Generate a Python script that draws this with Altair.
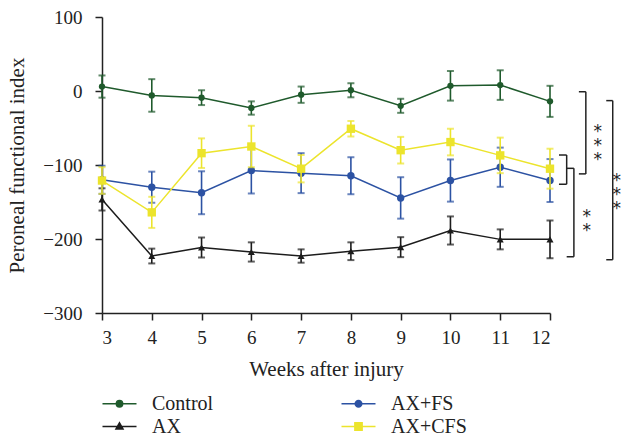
import altair as alt
import pandas as pd

weeks = [3, 4, 5, 6, 7, 8, 9, 10, 11, 12]
series_names = ["Control", "AX", "AX+FS", "AX+CFS"]
colors = {"Control": "#1f5a2c", "AX": "#1c1c1c", "AX+FS": "#2c52a3", "AX+CFS": "#ece42c"}
shapes = {"Control": "circle", "AX": "triangle-up", "AX+FS": "circle", "AX+CFS": "square"}
sizes = {"Control": 40, "AX": 50, "AX+FS": 55, "AX+CFS": 70}
legend_paths = {
    "Control": "M-1.5,0H1.5M-0.28,0A0.28,0.28,0,1,0,0.28,0A0.28,0.28,0,1,0,-0.28,0Z",
    "AX": "M-1.5,0H1.5M0,-0.32L0.31,0.22L-0.31,0.22Z",
    "AX+FS": "M-1.5,0H1.5M-0.29,0A0.29,0.29,0,1,0,0.29,0A0.29,0.29,0,1,0,-0.29,0Z",
    "AX+CFS": "M-1.5,0H1.5M-0.32,-0.32H0.32V0.32H-0.32Z",
}

control_mean = [6, -6, -9, -23, -5, 1, -20, 7, 8, -14]
control_err = [15, 22, 10, 9, 11, 9.5, 9.5, 20, 20, 21]
ax_mean = [-146.5, -223, -211.5, -217.5, -223, -216.5, -211, -188.5, -200.5, -200.5]
ax_err = [15, 10, 13.5, 13, 9, 12, 13.5, 19, 13.5, 25.5]
fs_mean = [-120, -130, -137.5, -107.5, -111, -114.5, -144.5, -121, -103, -121]
fs_err = [19, 21, 29, 31, 27, 25, 28, 28.5, 26.5, 29]
cfs_mean = [-121, -164, -84, -75, -105, -51, -80, -69, -87, -105]
cfs_err = [18, 21, 20, 28, 18.5, 10.5, 18, 18, 24, 27]

means = {"Control": control_mean, "AX": ax_mean, "AX+FS": fs_mean, "AX+CFS": cfs_mean}
errs = {"Control": control_err, "AX": ax_err, "AX+FS": fs_err, "AX+CFS": cfs_err}

# significance brackets (in data units)
br_x = [12.335, 12.18, 12.18, 12.48, 12.335, 12.335, 12.72, 12.58, 12.58, 13.26, 13.13, 13.13]
br_x2 = [12.335, 12.335, 12.335, 12.48, 12.48, 12.48, 12.72, 12.72, 12.72, 13.26, 13.26, 13.26]
br_y = [-86.5, -86.5, -126, -104.5, -104.5, -224, -1, -1, -112, -13, -13, -228]
br_y2 = [-126, -86.5, -126, -224, -104.5, -224, -112, -1, -112, -228, -13, -228]
star_x = [12.74, 12.96, 13.34]
star_y = [-170, -55, -121]
star_text = ["*\n*", "*\n*\n*", "*\n*\n*"]

rows = []
for s in series_names:
    for w, m, e in zip(weeks, means[s], errs[s]):
        rows.append({"week": w, "series": s, "mean": m, "lo": m - e, "hi": m + e})
df = pd.DataFrame(rows)

br_df = pd.DataFrame({"x": br_x, "x2": br_x2, "y": br_y, "y2": br_y2})
star_df = pd.DataFrame({"x": star_x, "y": star_y, "t": star_text})

FONT = "Liberation Serif"
xscale = alt.Scale(domain=[3, 12], nice=False, zero=False, padding=0)
yscale = alt.Scale(domain=[-300, 100], nice=False, padding=0)

X = alt.X("week:Q", scale=xscale,
          axis=alt.Axis(values=weeks, title="Weeks after injury", grid=False, tickSize=7,
                        labelPadding=8, titlePadding=11))
Y = alt.Y("mean:Q", scale=yscale,
          axis=alt.Axis(values=[-300, -200, -100, 0, 100], title="Peroneal functional index",
                        grid=False, tickSize=7, labelPadding=13, titlePadding=15))

base = alt.Chart(df)
layers = []
for s in series_names:
    d = base.transform_filter(alt.datum.series == s)
    col = alt.value(colors[s])
    layers.append(d.mark_rule(strokeWidth=1.6).encode(x=X, y=alt.Y("lo:Q", scale=yscale), y2="hi:Q", color=col))
    layers.append(d.mark_tick(orient="horizontal", size=7, thickness=2).encode(x=X, y=alt.Y("lo:Q", scale=yscale), color=col))
    layers.append(d.mark_tick(orient="horizontal", size=7, thickness=2).encode(x=X, y=alt.Y("hi:Q", scale=yscale), color=col))
    layers.append(d.mark_line(strokeWidth=1.5).encode(x=X, y=Y, color=col))
    layers.append(d.mark_point(filled=True, opacity=1, shape=shapes[s], size=sizes[s]).encode(x=X, y=Y, color=col))

leg = alt.Legend(title=None, orient="none", legendX=5, legendY=374, columns=2,
                 symbolSize=514, columnPadding=124, rowPadding=0,
                 labelFont=FONT, labelFontSize=20, labelColor="#222",
                 labelOffset=20, symbolStrokeWidth=1.5, symbolOpacity=1)
rng = [colors[s] for s in series_names]
legend_layer = base.mark_point(filled=True, opacity=0, strokeWidth=1.5).encode(
    x=X, y=Y,
    color=alt.Color("series:N", scale=alt.Scale(domain=series_names, range=rng), legend=leg),
    stroke=alt.Stroke("series:N", scale=alt.Scale(domain=series_names, range=rng), legend=leg),
    shape=alt.Shape("series:N", scale=alt.Scale(domain=series_names, range=[legend_paths[s] for s in series_names]),
                    legend=leg),
)

brackets = alt.Chart(br_df).mark_rule(strokeWidth=1.5, color="#222").encode(
    x=alt.X("x:Q", scale=xscale), x2="x2:Q", y=alt.Y("y:Q", scale=yscale), y2="y2:Q")
stars = alt.Chart(star_df).mark_text(font="DejaVu Sans", fontSize=17, lineBreak="\n", lineHeight=14,
                                     baseline="middle", align="center", color="#222").encode(
    x=alt.X("x:Q", scale=xscale), y=alt.Y("y:Q", scale=yscale), text="t:N")

chart = alt.layer(*layers, legend_layer, brackets, stars).properties(
    width=448, height=296,
    autosize=alt.AutoSizeParams(type="none"),
    padding={"left": 94, "top": 9, "right": 71, "bottom": 122},
).configure_view(stroke=None).configure_axis(
    domainColor="#222", tickColor="#222", labelColor="#222", titleColor="#222",
    labelFont=FONT, titleFont=FONT, labelFontSize=19, titleFontSize=21,
    titleFontWeight="normal", domainWidth=1.5, tickWidth=1.5
)

chart.save("out.html", embed_options={"renderer": "svg", "actions": False})
